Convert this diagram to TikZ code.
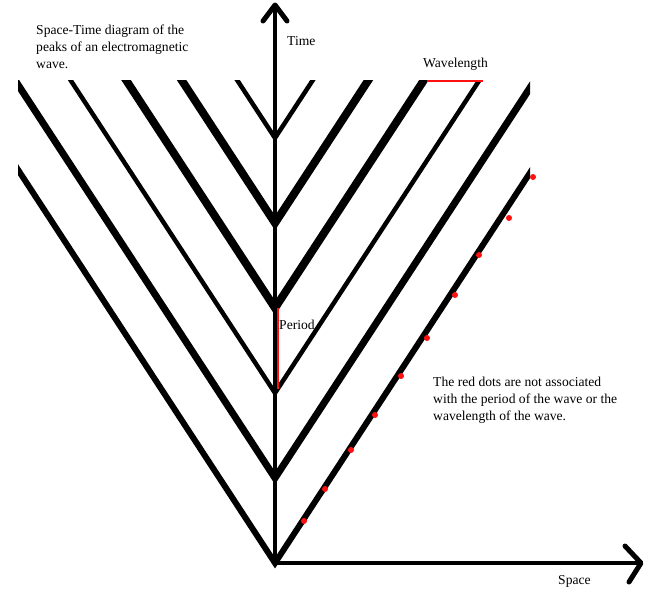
\documentclass[tikz,border=0pt]{standalone}
\usepackage{fontspec}
\setmainfont{Liberation Serif}
\usetikzlibrary{positioning}
\definecolor{dotred}{HTML}{FF1010}

\begin{document}
\begin{tikzpicture}[
  x=1pt,y=-1pt,
  txt/.style={font=\fontsize{13.6}{17}\selectfont,inner sep=0pt,anchor=base west},
  note/.style={font=\fontsize{13.6}{17}\selectfont,inner sep=0pt,anchor=north west,align=left},
  peak/.style={line width=#1,line join=miter},
  axis/.style={line width=4pt},
  head/.style={line width=5pt,line cap=round,line join=round},
  mark red/.style={draw=dotred,line width=1.2pt},
  dot/.style={circle,fill=dotred,inner sep=0pt,minimum size=6pt}
]
\useasboundingbox (0,0) rectangle (655,600);
% peaks meet the time axis here
\coordinate (o) at (275,563);
\coordinate (v1) at (275,478);
\coordinate (v2) at (275,393);
\coordinate (v3) at (275,308);
\coordinate (v4) at (275,223);
\coordinate (v5) at (275,138);
\coordinate (tend) at (275,5);
\coordinate (send) at (641,563);

\begin{scope}
\clip (18,80) rectangle (530,600);
\draw[peak=6pt] (o) ++(-330,-505) -- (o) -- ++(330,-505);
\draw[peak=7pt] (v1) ++(-330,-505) -- (v1) -- ++(330,-505);
\draw[peak=4.5pt] (v2) ++(-330,-505) -- (v2) -- ++(330,-505);
\draw[peak=8pt] (v3) ++(-330,-505) -- (v3) -- ++(330,-505);
\draw[peak=8pt] (v4) ++(-330,-505) -- (v4) -- ++(330,-505);
\draw[peak=4.5pt] (v5) ++(-330,-505) -- (v5) -- ++(330,-505);
\end{scope}

% axes
\draw[axis] (o) -- (tend);
\draw[axis] (o) -- (send);
\draw[head] (tend) ++(-12,16) -- (tend) -- ++(12,16);
\draw[head] (send) ++(-16,-17) -- (send) -- ++(-12,19);

% period and wavelength
\coordinate (pa) at (278,308);
\coordinate (pb) at (278,389);
\draw[mark red] (pa) -- (pb);
\coordinate (wa) at (427,81);
\coordinate (wb) at (483,81);
\draw[mark red] (wa) -- (wb);

% red dots
\node[dot] (d1) at (304,521) {};
\node[dot] (d2) at (325,489) {};
\node[dot] (d3) at (351,450) {};
\node[dot] (d4) at (375,415) {};
\node[dot] (d5) at (401,376) {};
\node[dot] (d6) at (427,338) {};
\node[dot] (d7) at (455,295) {};
\node[dot] (d8) at (479,255) {};
\node[dot] (d9) at (509,218) {};
\node[dot] (d10) at (533,177) {};

% labels
\node[txt] (time) at (287,45) {Time};
\node[txt] (space) at (558,584) {Space};
\node[txt] (period) at (279,329) {Period};
\node[txt] (wave) at (423,67) {Wavelength};
\node[note] (title) at (36,25) {Space-Time diagram of the\\peaks of an electromagnetic\\wave.};
\node[note] (remark) at (433,377) {The red dots are not associated\\with the period of the wave or the\\wavelength of the wave.};
\end{tikzpicture}
\end{document}
